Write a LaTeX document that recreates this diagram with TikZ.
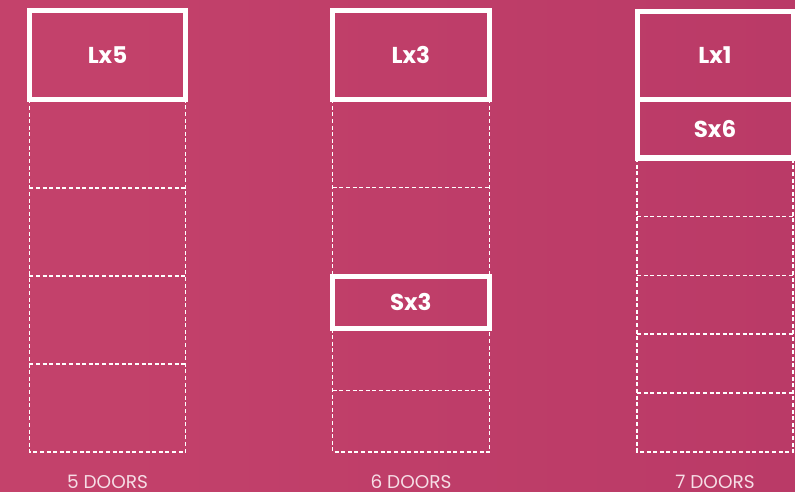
\documentclass[tikz,border=0pt]{standalone}
\usepackage{fontspec}
\setmainfont{Poppins}
\definecolor{bgleft}{RGB}{196,66,107}
\definecolor{bgright}{RGB}{186,58,103}
\definecolor{labeltext}{RGB}{246,222,230}
\begin{document}
\begin{tikzpicture}[x=1pt,y=-1pt,
  slot/.style={draw=white, line width=1.4pt, dash pattern=on 4pt off 2.6pt},
  bigbox/.style={draw=white, line width=5pt, text=white, font=\fontsize{23}{23}\selectfont\bfseries},
  doorlabel/.style={text=labeltext, font=\fontsize{18.5}{18.5}\selectfont, anchor=base}
]
\useasboundingbox (0,0) rectangle (795,492);
\shade[left color=bgleft, right color=bgright] (0,0) rectangle (795,492);

% column 1 slots
\draw[slot] (29.4,99.5) -- (29.4,452) -- (185.6,452) -- (185.6,99.5);
\draw[slot] (29.4,188) -- (185.6,188);
\draw[slot] (29.4,276) -- (185.6,276);
\draw[slot] (29.4,364) -- (185.6,364);
% column 2 slots
\draw[slot] (332.7,99.2) -- (332.7,276);
\draw[slot] (489.6,99.2) -- (489.6,276);
\draw[slot] (332.7,187.5) -- (489.6,187.5);
\draw[slot] (332.7,328.5) -- (332.7,452) -- (489.6,452) -- (489.6,328.5);
\draw[slot] (332.7,390.7) -- (489.6,390.7);
% column 3 slots
\draw[slot] (637,158) -- (637,452) -- (793,452) -- (793,158);
\draw[slot] (637,216.7) -- (793,216.7);
\draw[slot] (637,275.3) -- (793,275.3);
\draw[slot] (637,334) -- (793,334);
\draw[slot] (637,393) -- (793,393);

% labelled boxes
\node[bigbox, minimum width=156pt, minimum height=88.5pt] (lx5) at (107.5,55.25) {Lx5};
\node[bigbox, minimum width=156.7pt, minimum height=88.4pt] (lx3) at (410.85,55) {Lx3};
\node[bigbox, minimum width=156.7pt, minimum height=52.5pt] (sx3) at (410.85,302.25) {Sx3};
\node[bigbox, minimum width=156pt, minimum height=87.5pt] (lx1) at (715,55.45) {Lx1};
\node[bigbox, minimum width=156pt, minimum height=58.8pt] (sx6) at (715,128.6) {Sx6};

% door labels
\node[doorlabel] (d5) at (107.5,488.5) {5 DOORS};
\node[doorlabel] (d6) at (411,488.5) {6 DOORS};
\node[doorlabel] (d7) at (715,488.5) {7 DOORS};
\end{tikzpicture}
\end{document}
